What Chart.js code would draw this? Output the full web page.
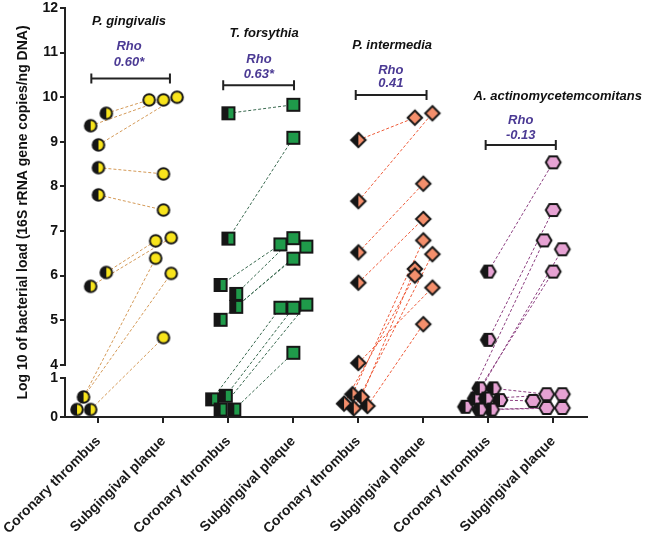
<!DOCTYPE html>
<html lang="en">
<head>
<meta charset="UTF-8">
<title>Bacterial load: coronary thrombus vs subgingival plaque</title>
<script src="https://cdn.jsdelivr.net/npm/chart.js"></script>
<style>
    body { margin: 0; background: #fff; }
    .chart-container { position: relative; width: 645px; height: 534px; }
</style>
</head>
<body>
<div class="chart-container"><canvas id="loadChart"></canvas></div>
<script>
// --- data (log10 copies / ng DNA), paired per patient: thrombus[k] <-> plaque[k]
const groupNames = ['P. gingivalis', 'T. forsythia', 'P. intermedia', 'A. actinomycetemcomitans'];
const rhoValues = ['0.60*', '0.63*', '0.41', '-0.13'];
const xLabels = ['Coronary thrombus', 'Subgingival plaque', 'Coronary thrombus', 'Subgingival plaque',
                 'Coronary thrombus', 'Subgingival plaque', 'Coronary thrombus', 'Subgingival plaque'];
const yTickValues = [0, 1, 4, 5, 6, 7, 8, 9, 10, 11, 12];

// jitter = horizontal scatter of the dots around their category (category units)
const pgThrombus       = [9.64, 9.36, 8.93, 8.42, 7.81, 6.07, 5.76, 0.19, 0.51, 0.19];
const pgThrombusJitter = [0.12, -0.12, 0, 0, 0, 0.12, -0.12, -0.33, -0.23, -0.12];
const pgPlaque         = [9.94, 9.94, 10.0, 8.28, 7.47, 6.78, 6.85, 6.39, 6.05, 4.61];
const pgPlaqueJitter   = [-0.22, 0, 0.21, 0, 0, -0.12, 0.12, -0.12, 0.12, 0];

const tfThrombus       = [9.64, 6.83, 5.79, 5.59, 5.30, 5.01, 0.45, 0.54, 0.19, 0.19];
const tfThrombusJitter = [0, 0, -0.12, 0.12, 0.12, -0.12, -0.25, -0.04, -0.12, 0.09];
const tfPlaque         = [9.83, 9.09, 6.70, 6.84, 6.65, 6.38, 5.28, 5.28, 5.35, 4.27];
const tfPlaqueJitter   = [0, 0, -0.2, 0, 0.2, 0, -0.2, 0, 0.2, 0];

const piThrombus       = [9.04, 7.67, 6.52, 5.84, 4.04, 0.58, 0.51, 0.34, 0.22, 0.28];
const piThrombusJitter = [0, 0, 0, 0, 0, -0.09, 0.05, -0.22, -0.07, 0.14];
const piPlaque         = [9.54, 9.64, 8.06, 7.27, 5.73, 6.79, 6.15, 6.00, 6.48, 4.91];
const piPlaqueJitter   = [-0.13, 0.14, 0, 0, 0.14, 0, -0.13, -0.13, 0.14, 0];

const aaThrombus       = [6.09, 4.56, 0.26, 0.47, 0.73, 0.73, 0.43, 0.47, 0.19, 0.19];
const aaThrombusJitter = [0, 0, -0.35, -0.2, -0.13, 0.08, 0.18, -0.03, 0.05, -0.13];
const aaPlaque         = [8.54, 7.47, 6.79, 6.59, 6.09, 0.58, 0.41, 0.58, 0.23, 0.23];
const aaPlaqueJitter   = [0, 0, -0.14, 0.14, 0, -0.1, -0.31, 0.14, 0.14, -0.1];

const FONT = "'Liberation Sans', Arial, sans-serif";

// broken y axis: 0-1 squeezed at the bottom, gap, then 4-12
function brk(v) {
    if (v <= 1) return v * 0.88;
    if (v >= 4) return 1.17 + (v - 4);
    return 0.88 + (v - 1) / 3 * 0.29;
}

function makeMarker(shape, fill, half) {
    const size = 22;
    const c = document.createElement('canvas');
    c.width = c.height = size;
    const g = c.getContext('2d');
    g.translate(size / 2, size / 2);
    g.beginPath();
    if (shape === 'circle') {
        g.arc(0, 0, 5.8, 0, Math.PI * 2);
    } else if (shape === 'square') {
        g.rect(-6, -6, 12, 12);
    } else if (shape === 'diamond') {
        g.moveTo(0, -7.2); g.lineTo(7.2, 0); g.lineTo(0, 7.2); g.lineTo(-7.2, 0); g.closePath();
    } else {
        g.moveTo(-7.4, 0); g.lineTo(-3.8, -6.1); g.lineTo(3.8, -6.1);
        g.lineTo(7.4, 0); g.lineTo(3.8, 6.1); g.lineTo(-3.8, 6.1); g.closePath();
    }
    g.fillStyle = fill;
    g.fill();
    if (half) {
        g.save();
        g.clip();
        g.fillStyle = '#161616';
        g.fillRect(-11, -11, 11, 22);
        g.restore();
    }
    g.lineJoin = 'miter';
    g.lineWidth = 2;
    g.strokeStyle = '#161616';
    g.stroke();
    return c;
}

const groups = [
    { thrombus: pgThrombus, tj: pgThrombusJitter, plaque: pgPlaque, pj: pgPlaqueJitter,
      shape: 'circle', fill: '#f8e41c', line: '#d49a58' },
    { thrombus: tfThrombus, tj: tfThrombusJitter, plaque: tfPlaque, pj: tfPlaqueJitter,
      shape: 'square', fill: '#1f9a4a', line: '#3a6a50' },
    { thrombus: piThrombus, tj: piThrombusJitter, plaque: piPlaque, pj: piPlaqueJitter,
      shape: 'diamond', fill: '#f48f6c', line: '#ee5a38' },
    { thrombus: aaThrombus, tj: aaThrombusJitter, plaque: aaPlaque, pj: aaPlaqueJitter,
      shape: 'hexagon', fill: '#e6a2d3', line: '#8c3f80' }
];

// where the species names, Rho values and brackets sit (data units)
const annotations = [
    { title: [1.47, 11.69], rho: [1.47, 11.13], val: [1.47, 10.78], bracket: [0.89, 2.10, 10.42] },
    { title: [3.55, 11.42], rho: [3.47, 10.84], val: [3.47, 10.52], bracket: [2.92, 4.01, 10.27] },
    { title: [5.52, 11.15], rho: [5.50, 10.61], val: [5.50, 10.30], bracket: [4.96, 6.05, 10.05] },
    { title: [8.07, 10.02], rho: [7.50, 9.47], val: [7.50, 9.15], bracket: [6.96, 8.04, 8.93] }
];

const datasets = [];
groups.forEach((g, i) => {
    const xT = 2 * i + 1, xP = 2 * i + 2;
    datasets.push({
        label: groupNames[i] + ' thrombus',
        data: g.thrombus.map((v, k) => ({ x: xT + g.tj[k], y: brk(v) })),
        pointStyle: makeMarker(g.shape, g.fill, true),
        pointRadius: 7,
        order: 0
    });
    datasets.push({
        label: groupNames[i] + ' plaque',
        data: g.plaque.map((v, k) => ({ x: xP + g.pj[k], y: brk(v) })),
        pointStyle: makeMarker(g.shape, g.fill, false),
        pointRadius: 7,
        order: 0
    });
    const pairs = [];
    g.thrombus.forEach((v, k) => {
        pairs.push({ x: xT + g.tj[k], y: brk(v) });
        pairs.push({ x: xP + g.pj[k], y: brk(g.plaque[k]) });
        pairs.push({ x: xP, y: null });
    });
    datasets.push({
        label: groupNames[i] + ' pairs',
        data: pairs,
        showLine: true,
        spanGaps: false,
        borderColor: g.line,
        borderWidth: 1,
        borderDash: [3, 2],
        pointRadius: 0,
        order: 1
    });
});

const brokenAxis = {
    id: 'brokenAxis',
    afterDraw(chart) {
        const { ctx, chartArea, scales: { x, y } } = chart;
        ctx.save();
        ctx.strokeStyle = '#222';
        ctx.lineWidth = 2;
        const ax = chartArea.left - 1;
        ctx.beginPath();
        ctx.moveTo(ax, y.getPixelForValue(brk(12)) - 1);
        ctx.lineTo(ax, y.getPixelForValue(brk(4)));
        ctx.moveTo(ax, y.getPixelForValue(brk(1)));
        ctx.lineTo(ax, chartArea.bottom + 1);
        ctx.stroke();

        ctx.textAlign = 'center';
        ctx.textBaseline = 'middle';
        annotations.forEach((a, i) => {
            ctx.fillStyle = '#111';
            ctx.font = 'italic bold 13px ' + FONT;
            ctx.fillText(groupNames[i], x.getPixelForValue(a.title[0]), y.getPixelForValue(brk(a.title[1])));
            ctx.fillStyle = '#4b3a94';
            ctx.fillText('Rho', x.getPixelForValue(a.rho[0]), y.getPixelForValue(brk(a.rho[1])));
            ctx.fillText(rhoValues[i], x.getPixelForValue(a.val[0]), y.getPixelForValue(brk(a.val[1])));
            const x0 = x.getPixelForValue(a.bracket[0]);
            const x1 = x.getPixelForValue(a.bracket[1]);
            const by = y.getPixelForValue(brk(a.bracket[2]));
            ctx.strokeStyle = '#222';
            ctx.lineWidth = 2;
            ctx.beginPath();
            ctx.moveTo(x0, by); ctx.lineTo(x1, by);
            ctx.moveTo(x0, by - 5); ctx.lineTo(x0, by + 5);
            ctx.moveTo(x1, by - 5); ctx.lineTo(x1, by + 5);
            ctx.stroke();
        });
        ctx.restore();
    }
};

new Chart(document.getElementById('loadChart'), {
    type: 'scatter',
    data: { datasets: datasets },
    plugins: [brokenAxis],
    options: {
        responsive: true,
        maintainAspectRatio: false,
        animation: false,
        layout: { padding: { left: 0, top: 0, right: 58, bottom: 0 } },
        plugins: { legend: { display: false }, tooltip: { enabled: false } },
        scales: {
            x: {
                type: 'linear',
                min: 0.5,
                max: 8.52,
                afterBuildTicks: s => { s.ticks = xLabels.map((_, i) => ({ value: i + 1 })); },
                afterFit: s => { s.height = 117; s.paddingLeft = 0; s.paddingRight = 0; },
                ticks: {
                    autoSkip: false,
                    minRotation: 45,
                    maxRotation: 45,
                    padding: 10,
                    color: '#1a1a1a',
                    font: { family: FONT, size: 14, weight: 'bold' },
                    callback: (v, i) => xLabels[i]
                },
                grid: { drawOnChartArea: false, drawTicks: true, tickLength: 6, lineWidth: 2, color: '#222' },
                border: { display: true, width: 2, color: '#222' }
            },
            y: {
                type: 'linear',
                min: 0,
                max: brk(12),
                afterBuildTicks: s => { s.ticks = yTickValues.map(v => ({ value: brk(v) })); },
                afterFit: s => { s.width = 66; s.paddingTop = 5; s.paddingBottom = 0; },
                ticks: {
                    autoSkip: false,
                    padding: 2,
                    color: '#111',
                    font: { family: FONT, size: 14, weight: 'bold' },
                    callback: (v, i) => String(yTickValues[i])
                },
                grid: { drawOnChartArea: false, drawTicks: true, tickLength: 6, lineWidth: 2, color: '#222' },
                border: { display: false },
                title: {
                    display: true,
                    text: 'Log 10 of bacterial load (16S rRNA gene copies/ng DNA)',
                    color: '#111',
                    font: { family: FONT, size: 14, weight: 'bold' },
                    padding: { top: 15, bottom: 0 }
                }
            }
        }
    }
});
</script>
</body>
</html>
